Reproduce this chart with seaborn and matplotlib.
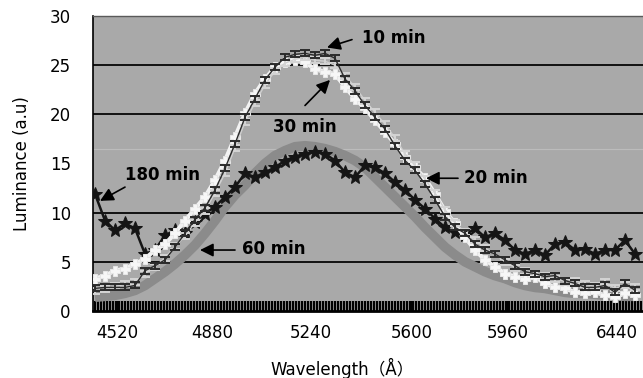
import numpy as np
import pandas as pd
import matplotlib
matplotlib.use("Agg")
import matplotlib.pyplot as plt
from matplotlib.path import Path
from matplotlib.ticker import MultipleLocator
import seaborn as sns

# ---------------- data ----------------
tick_labels = ["4520", "4880", "5240", "5600", "5960", "6440"]

s10 = [2.3, 2.4, 2.4, 2.4, 2.6, 4.1, 4.6, 5.2, 6.5, 7.9, 9.3, 10.5, 12.3, 14.5, 17.0,
       19.7, 21.6, 23.5, 24.8, 25.8, 26.1, 26.2, 26.0, 26.2, 25.7, 23.6, 22.4, 20.9, 19.7,
       18.5, 16.8, 15.3, 14.3, 12.9, 11.3, 9.6, 8.5, 7.9, 6.8, 6.2, 5.8, 5.2, 4.6, 4.0,
       3.8, 3.5, 3.6, 3.1, 2.8, 2.4, 2.4, 2.6, 1.9, 2.8, 2.1]
s20 = [2.0, 2.2, 2.5, 2.7, 3.0, 3.8, 4.5, 5.4, 6.6, 7.6, 9.0, 10.2, 12.0, 14.0, 16.6,
       19.2, 21.2, 23.0, 24.4, 25.2, 25.6, 25.8, 25.5, 25.4, 25.0, 23.9, 22.8, 21.4, 20.2,
       19.0, 17.6, 16.0, 14.8, 13.4, 12.0, 10.3, 9.0, 8.0, 7.2, 6.4, 5.8, 5.0, 4.4, 4.1,
       3.8, 3.6, 3.3, 3.0, 3.1, 2.7, 2.5, 2.9, 2.3, 2.6, 2.4]
s30 = [3.3, 3.6, 4.1, 4.3, 4.8, 5.3, 6.2, 6.8, 7.9, 9.2, 10.4, 11.6, 13.3, 15.3, 17.7,
       20.1, 22.1, 23.6, 24.8, 25.3, 25.5, 25.3, 24.6, 24.3, 24.1, 22.8, 21.6, 20.6, 19.4,
       18.2, 17.0, 15.7, 14.6, 13.5, 11.9, 10.2, 8.9, 7.5, 6.2, 5.2, 4.5, 3.8, 3.5, 3.3,
       3.5, 2.8, 2.4, 2.3, 1.9, 1.8, 1.9, 1.6, 1.4, 1.8, 1.6]
s60 = [1.4, 1.5, 1.6, 1.8, 2.1, 2.6, 3.3, 4.0, 4.8, 5.7, 6.7, 7.9, 9.2, 10.6, 11.8,
       12.8, 14.0, 15.0, 15.8, 16.3, 16.7, 16.8, 16.7, 16.5, 16.2, 15.8, 15.3, 14.6, 13.6,
       12.6, 11.6, 10.6, 9.6, 8.5, 7.5, 6.5, 5.7, 5.0, 4.5, 4.0, 3.6, 3.3, 2.9, 2.6,
       2.4, 2.3, 2.1, 1.9, 1.8, 1.8, 1.7, 1.6, 1.6, 1.5, 1.5]
s180 = [11.9, 9.2, 8.2, 8.9, 8.4, 5.8, 6.2, 7.7, 8.2, 7.9, 9.1, 9.9, 10.6, 11.6, 12.6,
        14.0, 13.6, 14.1, 14.6, 15.3, 15.7, 16.0, 16.2, 16.0, 15.3, 14.1, 13.6, 14.8, 14.6,
        14.0, 13.1, 12.3, 11.3, 10.4, 9.4, 8.5, 8.0, 7.7, 8.4, 7.5, 7.9, 7.2, 6.2, 5.8,
        6.2, 5.7, 6.8, 7.0, 6.2, 6.3, 5.8, 6.2, 6.2, 7.2, 5.8]

# ---------------- figure ----------------
sns.set_theme(style="white")
plt.rcParams['font.family'] = ['DejaVu Sans', 'Noto Sans CJK KR']

W, H = 643, 378
fig = plt.figure(figsize=(W / 100, H / 100), dpi=100)
ax = fig.add_axes([93 / W, 1 - 311 / H, 550 / W, 295 / H])
ax.set_facecolor("#a9a9a9")

idx = np.arange(len(s10))

# horizontal grid lines
for v in [5, 10, 20, 25]:
    ax.axhline(v, color="#111111", lw=1.4, zorder=1)
ax.axhline(16.5, color="#bcbcbc", lw=0.8, zorder=1)

ibeam = Path([(-1, 0.7), (1, 0.7), (0, 0.7), (0, -0.7), (-1, -0.7), (1, -0.7)],
             [Path.MOVETO, Path.LINETO, Path.MOVETO, Path.LINETO, Path.MOVETO, Path.LINETO])

# 60 min - thick gray band
sns.lineplot(x=idx, y=s60, ax=ax, color="#8b8b8b", lw=7, zorder=2,
             solid_capstyle="butt", legend=False)
# 180 min - black stars
sns.lineplot(x=idx, y=s180, ax=ax, color="#151515", lw=1.8, marker="*", markersize=10,
             markeredgecolor="#151515", markerfacecolor="#151515", zorder=3, legend=False)
# 30 min - white
sns.lineplot(x=idx, y=s30, ax=ax, color="#f2f2f2", lw=3, marker="P", markersize=7,
             markeredgecolor="#e6e6e6", markerfacecolor="#f7f7f7", zorder=4, legend=False)
# 20 min - light hash
sns.lineplot(x=idx, y=s20, ax=ax, color="#cfcfcf", lw=1.0, marker=ibeam, markersize=6.5,
             markeredgecolor="#d4d4d4", markeredgewidth=1.4, zorder=5, legend=False)
# 10 min - dark hash
sns.lineplot(x=idx, y=s10, ax=ax, color="#2b2b2b", lw=1.0, marker=ibeam, markersize=6.5,
             markeredgecolor="#2b2b2b", markeredgewidth=1.4, zorder=6, legend=False)

# axes setup
ax.set_xlim(-0.2, 54.8)
ax.set_ylim(0, 30)
ax.set_yticks([0, 5, 10, 15, 20, 25, 30])
ax.set_yticklabels(["0", "5", "10", "15", "20", "25", "30"])
ax.set_xticks([2.2, 11.7, 21.6, 31.7, 41.3, 52.2])
ax.set_xticklabels(tick_labels)
ax.xaxis.set_minor_locator(MultipleLocator(0.3))
ax.tick_params(axis="x", which="both", direction="in", length=7, width=1.6,
               color="black", bottom=True, pad=9, labelsize=12, labelcolor="black")
ax.tick_params(axis="y", which="both", length=0, pad=16, labelsize=12, labelcolor="black")

ax.spines["right"].set_visible(False)
ax.spines["top"].set_color("#5a5a5a")
ax.spines["top"].set_linewidth(1.0)
ax.spines["left"].set_color("black")
ax.spines["left"].set_linewidth(1.2)
ax.spines["bottom"].set_color("black")
ax.spines["bottom"].set_linewidth(2.0)

ax.set_xlabel("Wavelength（Å）", fontsize=12, color="black")
ax.xaxis.set_label_coords(0.453, -0.16)
ax.set_ylabel("Luminance (a.u)", fontsize=12, color="black")
ax.yaxis.set_label_coords(-0.113, 0.5)

# annotations
arrow = dict(arrowstyle="-|>", mutation_scale=20, color="black", lw=1.2,
             shrinkA=0, shrinkB=0)
tk = dict(fontsize=12, fontweight="bold", color="black", va="center", ha="left")
ax.annotate("", xy=(23.2, 26.8), xytext=(25.7, 27.6), arrowprops=arrow, zorder=8)
ax.text(26.7, 27.8, "10 min", **tk, zorder=8)
ax.annotate("", xy=(23.5, 23.5), xytext=(21.0, 20.9), arrowprops=arrow, zorder=8)
ax.text(17.8, 18.7, "30 min", **tk, zorder=8)
ax.annotate("", xy=(33.1, 13.5), xytext=(36.3, 13.5), arrowprops=arrow, zorder=8)
ax.text(36.9, 13.5, "20 min", **tk, zorder=8)
ax.annotate("", xy=(0.5, 11.2), xytext=(3.0, 12.6), arrowprops=arrow, zorder=8)
ax.text(3.0, 13.8, "180 min", **tk, zorder=8)
ax.annotate("", xy=(10.5, 6.2), xytext=(14.0, 6.2), arrowprops=arrow, zorder=8)
ax.text(14.7, 6.3, "60 min", **tk, zorder=8)

fig.savefig("out.png", dpi=100, facecolor="white")
